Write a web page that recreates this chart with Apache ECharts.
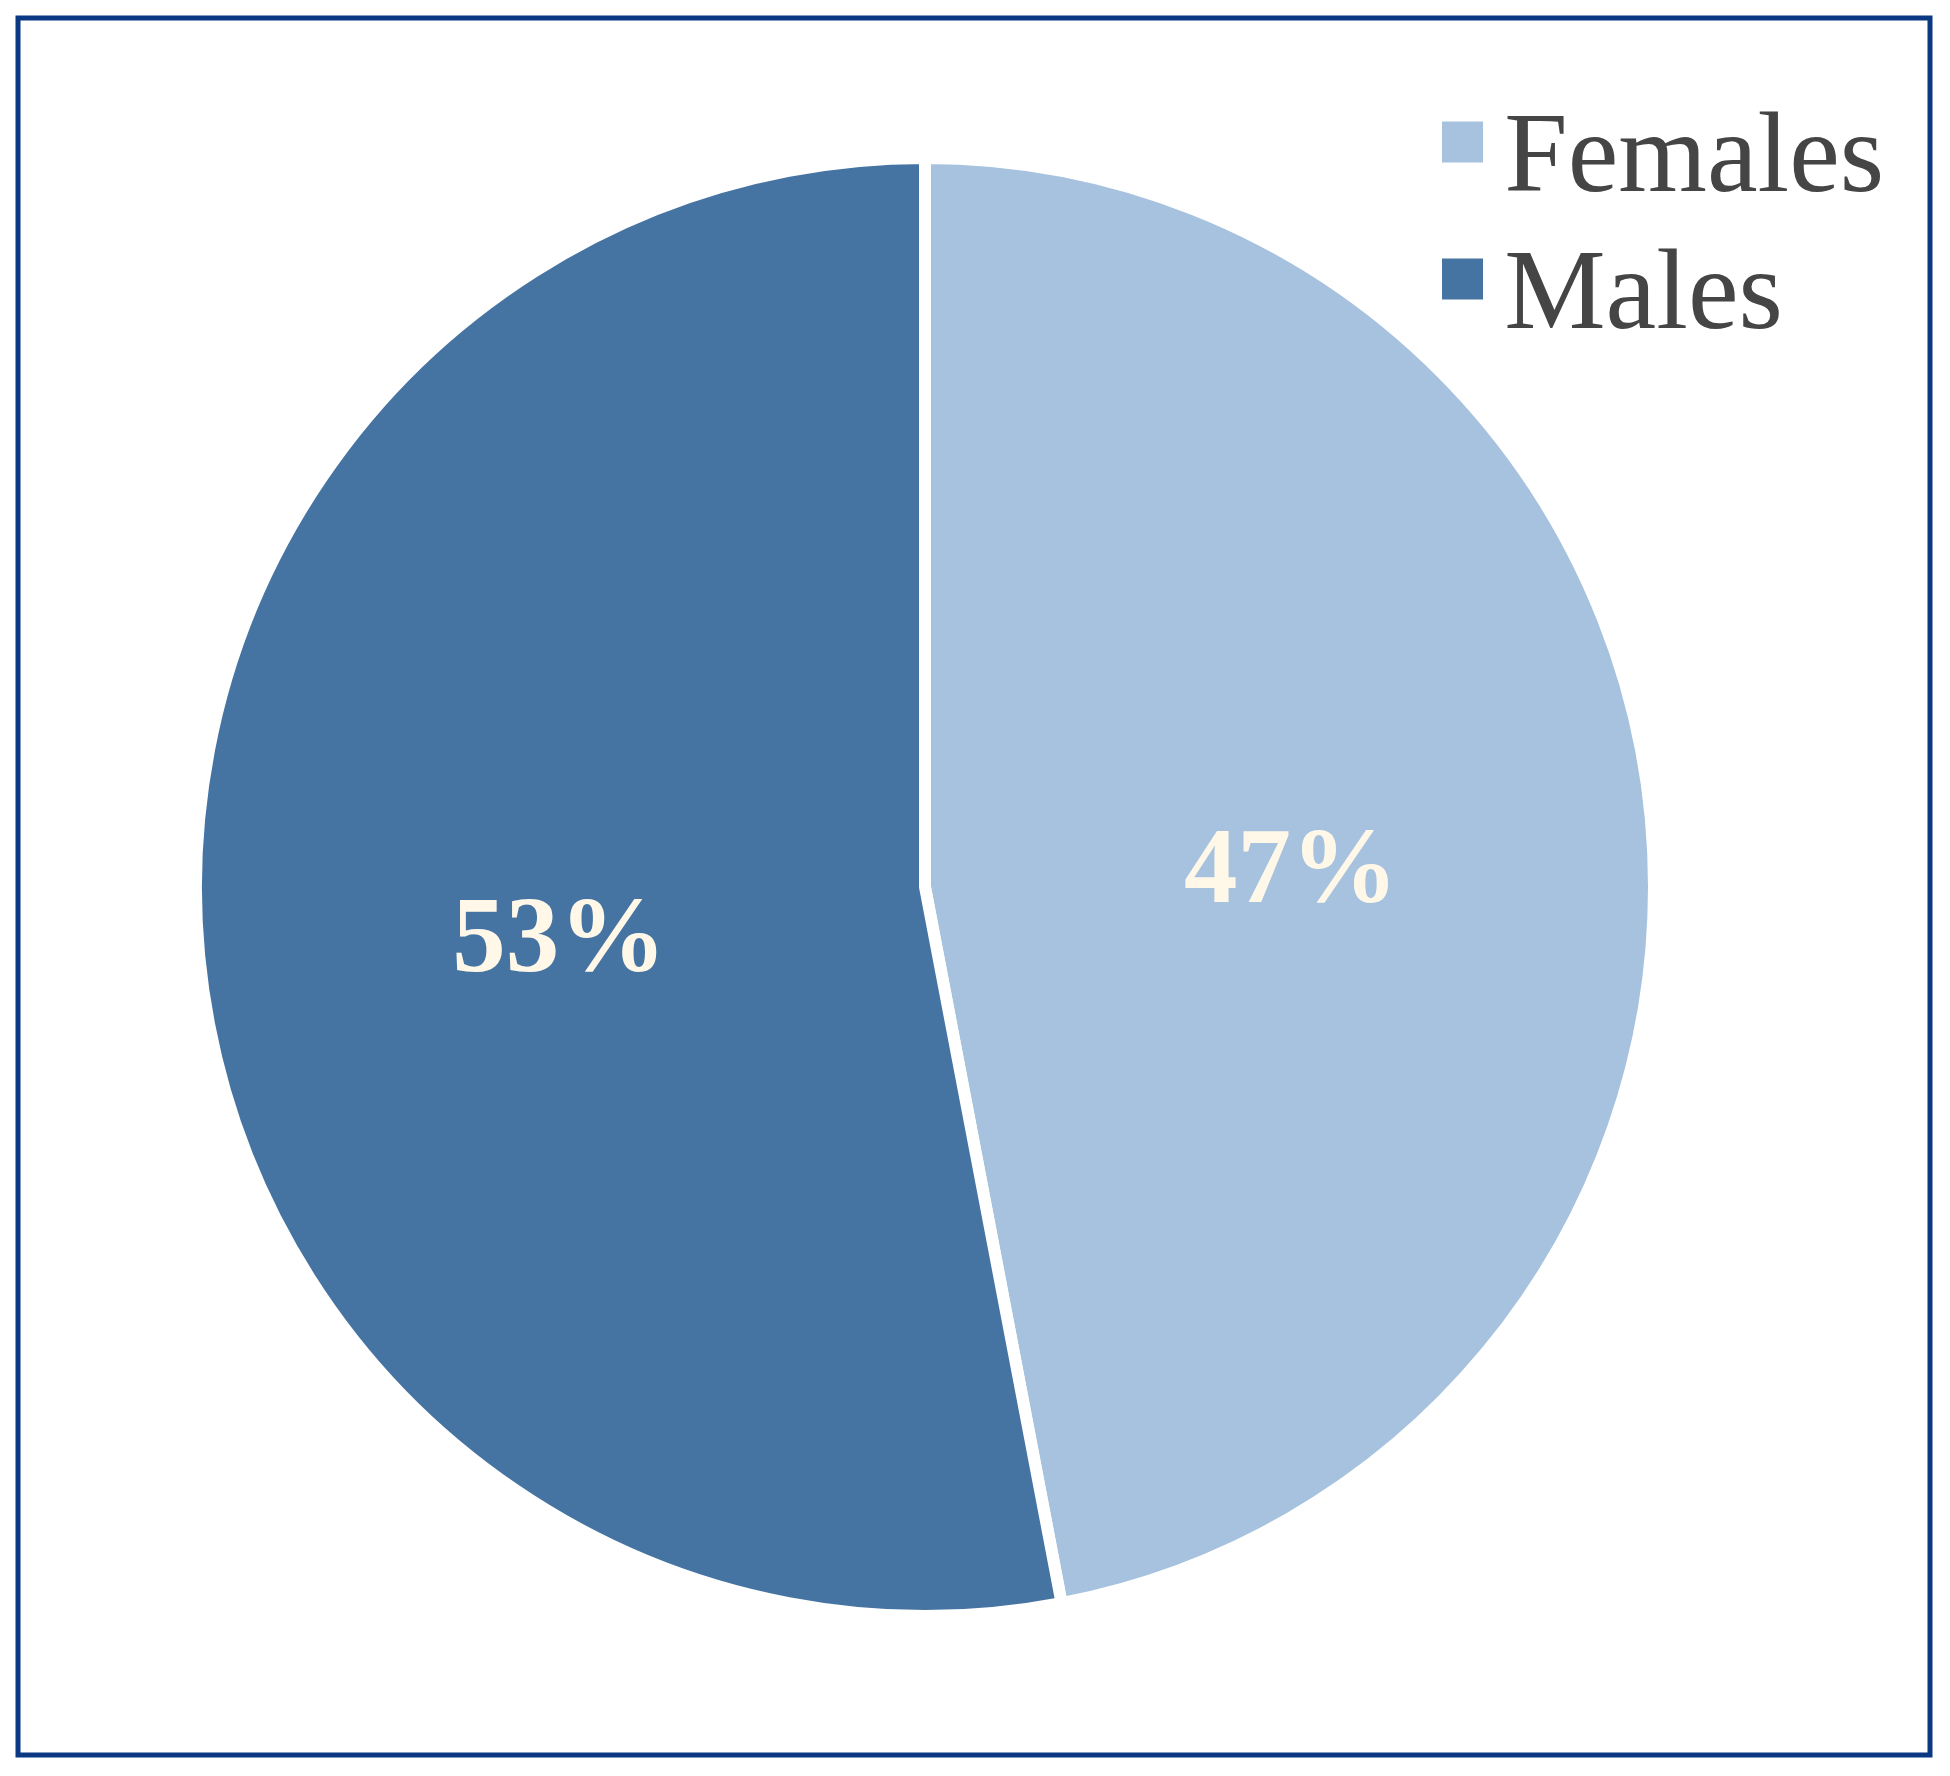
<!DOCTYPE html>
<html>
<head>
<meta charset="utf-8">
<script src="https://cdn.jsdelivr.net/npm/echarts@6/dist/echarts.min.js"></script>
<style>
html,body{margin:0;padding:0;background:#fff;}
#chart{width:1950px;height:1776px;}
</style>
</head>
<body>
<div id="chart"></div>
<script>
const categories = ['Females', 'Males'];
const values = [47, 53];
const colors = ['#A6C2DE', '#4674A2'];

const chart = echarts.init(document.getElementById('chart'));
const serif = '"Liberation Serif", "Times New Roman", "DejaVu Serif", serif';

chart.setOption({
  backgroundColor: '#ffffff',
  animation: false,
  graphic: [{
    type: 'rect',
    shape: { x: 18, y: 18, width: 1912, height: 1737 },
    style: { fill: 'none', stroke: '#0A3882', lineWidth: 5 },
    z: 10
  }],
  legend: {
    orient: 'vertical',
    left: 1435,
    top: 99,
    icon: 'rect',
    itemWidth: 43,
    itemHeight: 43,
    itemGap: 23,
    data: categories,
    formatter: name => '{s| }{t|' + name + '}',
    textStyle: {
      fontFamily: serif,
      fontSize: 114,
      color: '#454545',
      padding: [0, 0, 0, 15],
      rich: {
        s: { fontSize: 1, height: 152 },
        t: { fontFamily: serif, fontSize: 114, color: '#454545', verticalAlign: 'bottom' }
      }
    }
  },
  series: [{
    type: 'pie',
    center: [925, 887],
    radius: 729,
    startAngle: 90,
    clockwise: true,
    silent: true,
    data: categories.map((c, i) => ({
      name: c,
      value: values[i],
      itemStyle: { color: colors[i] }
    })),
    itemStyle: { borderColor: '#ffffff', borderWidth: 12 },
    label: {
      show: true,
      position: 'inner',
      formatter: p => '{s| }{v|' + p.value + '%}',
      fontFamily: serif,
      fontWeight: 'bold',
      fontSize: 107,
      color: '#FFF8E8',
      rich: {
        s: { fontSize: 1, height: 150 },
        v: { fontFamily: serif, fontWeight: 'bold', fontSize: 107, color: '#FFF8E8', verticalAlign: 'bottom' }
      }
    },
    labelLine: { show: false }
  }]
});
</script>
</body>
</html>
